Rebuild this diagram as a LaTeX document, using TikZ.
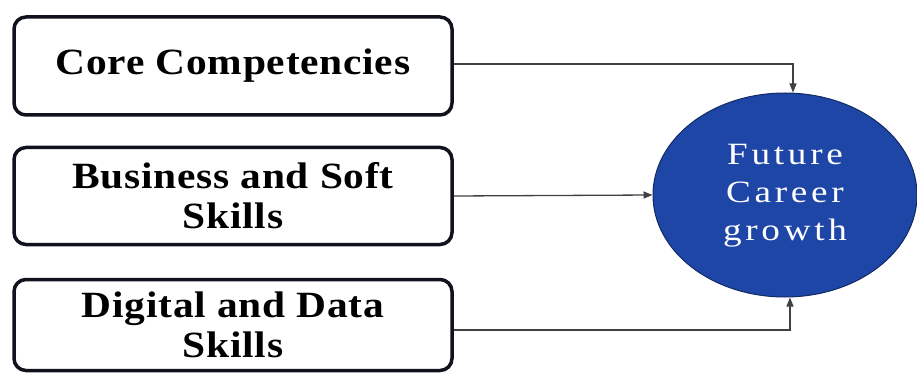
\documentclass[tikz,border=0pt]{standalone}
\usepackage{fontspec}
\setmainfont{Liberation Serif}
\newfontfamily\boxfont[FakeStretch=1.12,LetterSpace=2]{Liberation Serif}
\newfontfamily\goalfont[FakeStretch=1.2,LetterSpace=12]{Liberation Serif}
\usetikzlibrary{arrows.meta,shapes.geometric}
\definecolor{goalblue}{HTML}{1E46A6}
\definecolor{edgeink}{HTML}{10121E}
\tikzset{
  skillbox/.style={draw=edgeink, line width=3.5pt, rounded corners=12pt, fill=white,
    minimum width=438pt, align=center, font=\boxfont\bfseries\fontsize{37}{40}\selectfont},
  goal/.style={ellipse, draw=goalblue!60!black, line width=1pt, fill=goalblue,
    minimum width=264pt, minimum height=204pt, inner sep=0pt, align=center,
    text=white, font=\goalfont\fontsize{31}{38}\selectfont},
  link/.style={draw=black!75, line width=1.3pt, -{Triangle[length=9pt,width=7pt]}}
}
\begin{document}
\begin{tikzpicture}[x=1pt,y=-1pt]
\useasboundingbox (0,0) rectangle (917,374);
\node[skillbox, minimum height=98pt] (core) at (233,66) {Core Competencies};
\node[skillbox, minimum height=97pt] (biz) at (233,196) {Business and Soft\\Skills};
\node[skillbox, minimum height=91pt] (dig) at (233,325) {Digital and Data\\Skills};
\node[goal] (fcg) at (785,195)
  {\raisebox{-4pt}{\begin{tabular}{@{}c@{}}Future\\Career\\growth\end{tabular}}};
\draw[link] ([yshift=2pt]core.east) -| ([xshift=8pt]fcg.north);
\draw[link] (biz.east) -- (fcg.west);
\draw[link] ([yshift=-5pt]dig.east) -| ([xshift=5pt]fcg.south);
\end{tikzpicture}
\end{document}
